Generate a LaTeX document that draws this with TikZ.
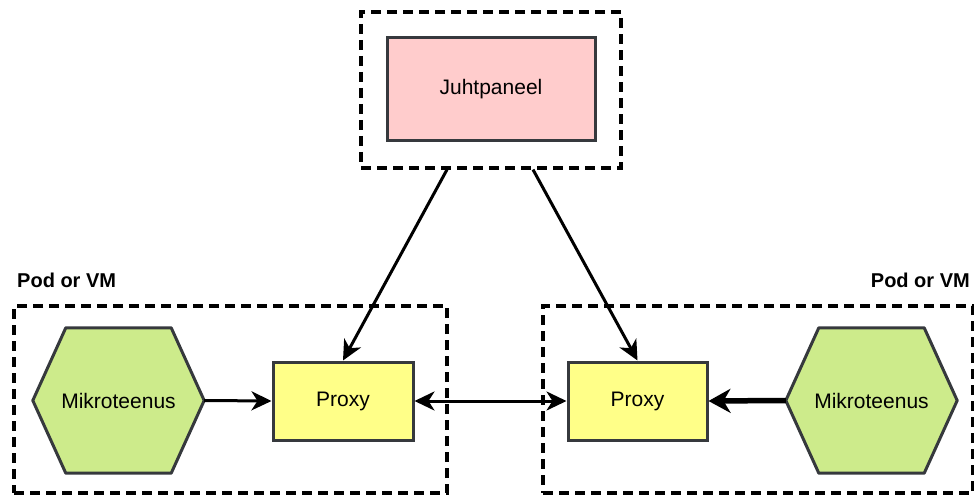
\documentclass[tikz,border=0pt]{standalone}
\usepackage{fontspec}
\setmainfont{Liberation Sans}
\usetikzlibrary{arrows.meta,calc}
\definecolor{pinkfill}{HTML}{FFCCCC}
\definecolor{yellowfill}{HTML}{FFFF88}
\definecolor{greenfill}{HTML}{CDEB8B}
\definecolor{shapeline}{HTML}{36393D}
\tikzset{
  groupbox/.style={draw=black, line width=3.2pt, dash pattern=on 10pt off 6pt, inner sep=0pt},
  plainbox/.style={draw=shapeline, line width=3pt, inner sep=0pt, font=\fontsize{21}{25}\selectfont},
  hexnode/.style={inner sep=0pt, minimum width=171pt, minimum height=145pt, font=\fontsize{21}{25}\selectfont},
  grouplabel/.style={inner sep=0pt, font=\bfseries\fontsize{20}{24}\selectfont},
  tip/.style={Stealth[length=20pt, width=19pt, inset=6pt]},
  flow/.style={line width=3pt, -{Stealth[length=20pt, width=19pt, inset=6pt]}},
  flowboth/.style={line width=3pt, {Stealth[length=20pt, width=19pt, inset=6pt]}-{Stealth[length=20pt, width=19pt, inset=6pt]}},
  flowthick/.style={line width=5.5pt, -{Stealth[length=22pt, width=24pt, inset=7pt]}},
}
\newcommand{\hexpath}[2]{%
  \draw[fill=greenfill, draw=shapeline, line width=3pt, line join=round]
    (#1.west) -- ($(#1.north west)+(#2,0)$) -- ($(#1.north east)+(-#2,0)$)
    -- (#1.east) -- ($(#1.south east)+(-#2,0)$) -- ($(#1.south west)+(#2,0)$) -- cycle;}
\begin{document}
\begin{tikzpicture}[x=1pt, y=-1pt]
\useasboundingbox (0,0) rectangle (974,497);

% control plane
\node[groupbox, minimum width=260pt, minimum height=156pt] (cpgroup) at (491,90) {};
\node[plainbox, fill=pinkfill, minimum width=208pt, minimum height=103pt] (juht) at (491,89.5) {Juhtpaneel};

% pod groups
\node[groupbox, minimum width=433pt, minimum height=187pt] (podL) at (230.5,399.5) {};
\node[groupbox, minimum width=430pt, minimum height=187pt] (podR) at (758,399.5) {};
\node[grouplabel, anchor=west] (labL) at (17,280) {Pod or VM};
\node[grouplabel, anchor=east] (labR) at (970,280) {Pod or VM};

% microservices
\node[hexnode] (msL) at (118.5,400.5) {};
\hexpath{msL}{33}
\node[hexnode] (msLt) at (msL.center) {Mikroteenus};
\node[hexnode] (msR) at (871.5,400.5) {};
\hexpath{msR}{33}
\node[hexnode] (msRt) at (msR.center) {Mikroteenus};

% proxies
\node[plainbox, fill=yellowfill, minimum width=140pt, minimum height=78pt] (pxL) at (343,401) {Proxy};
\node[plainbox, fill=yellowfill, minimum width=139pt, minimum height=78pt] (pxR) at (637.5,401) {Proxy};

% connectors
\draw[flow] ($(cpgroup.south)+(-44,0)$) -- (pxL.north);
\draw[flow] ($(cpgroup.south)+(42,0)$) -- (pxR.north);
\draw[flow] (msL.east) -- (pxL.west);
\draw[flowboth] (pxL.east) -- (pxR.west);
\draw[flowthick] (msR.west) -- (pxR.east);
\end{tikzpicture}
\end{document}
